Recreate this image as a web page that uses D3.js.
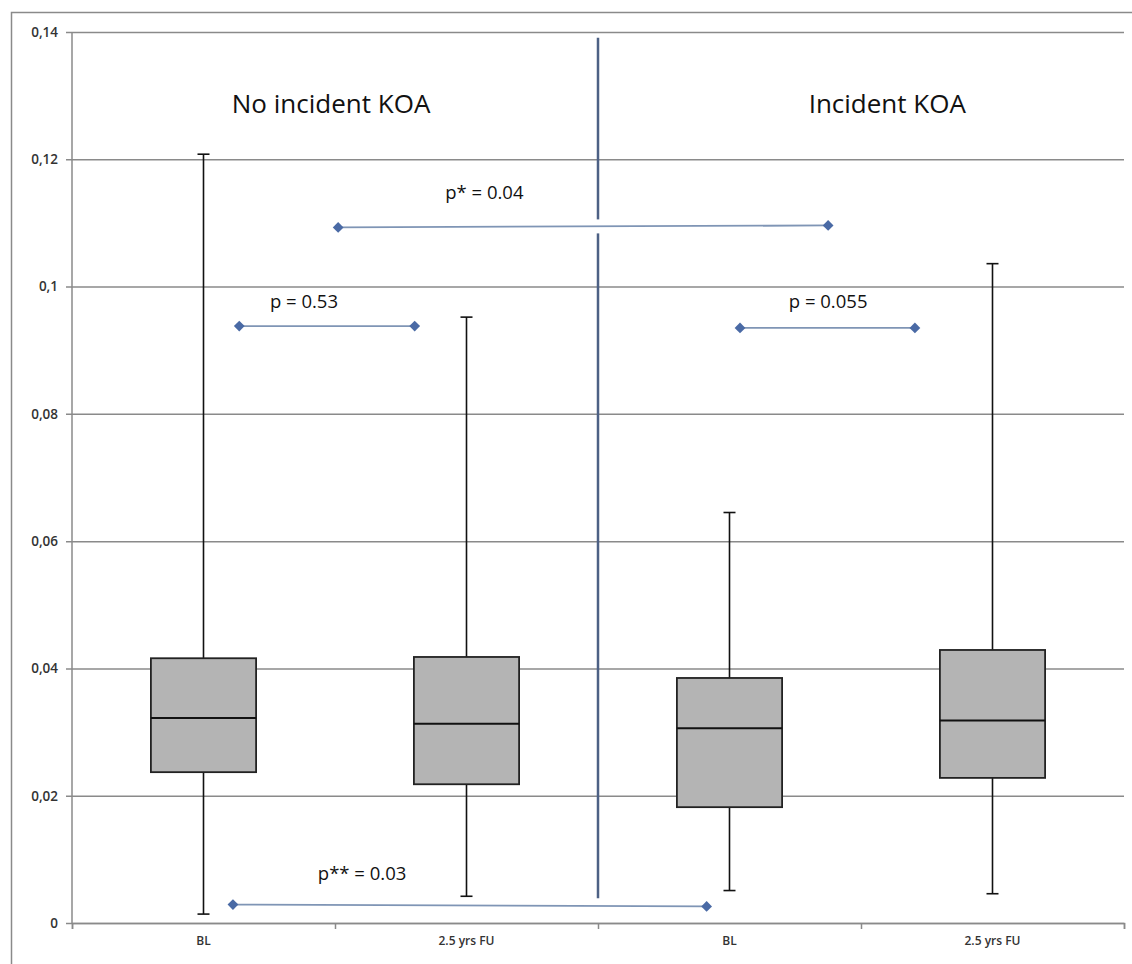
<!DOCTYPE html>
<html>
<head>
  <title>KOA box plot</title>
  <script src="https://d3js.org/d3.v7.min.js"></script>
  <style>
    body { margin: 0; background: #fff; }
    text { font-family: "Open Sans", "Noto Sans", sans-serif; fill: #111; }
  </style>
</head>
<body>
  <script>
    // Data
    var categories = ["BL", "2.5 yrs FU", "BL ", "2.5 yrs FU "];
    var whiskerMin = [0.0014, 0.0042, 0.0051, 0.0046];
    var q1Values = [0.0237, 0.0218, 0.0182, 0.0228];
    var medians = [0.0322, 0.0313, 0.0306, 0.0318];
    var q3Values = [0.0416, 0.0418, 0.0385, 0.0429];
    var whiskerMax = [0.1208, 0.0952, 0.0645, 0.1036];
    var yTicks = [0, 0.02, 0.04, 0.06, 0.08, 0.1, 0.12, 0.14];
    var yTickLabels = ["0", "0,02", "0,04", "0,06", "0,08", "0,1", "0,12", "0,14"];

    // Comparison brackets: positions in category units (0..4), values on y
    var compLabels = ["p = 0.53", "p* = 0.04", "p = 0.055", "p** = 0.03"];
    var compX1 = [0.636, 1.012, 2.540, 0.612];
    var compX2 = [1.303, 2.875, 3.205, 2.413];
    var compY1 = [0.0938, 0.1093, 0.0935, 0.0029];
    var compY2 = [0.0938, 0.1096, 0.0935, 0.0026];
    var compTextX = [0.882, 1.568, 2.875, 1.103];
    var compTextY = [0.0966, 0.1138, 0.0966, 0.0067];

    var groupLabels = ["No incident KOA", "Incident KOA"];
    var groupX = [0.985, 3.10];
    var groupY = 0.1273;

    var width = 1132, height = 964;
    var margin = {top: 32, right: 8, bottom: 41, left: 72};

    var svg = d3.select("body").append("svg")
      .attr("width", width)
      .attr("height", height);

    // outer frame
    svg.append("path")
      .attr("d", "M11.5," + height + "V12.5H" + width)
      .attr("fill", "none")
      .attr("stroke", "#8a8a8a")
      .attr("stroke-width", 1.5);

    var x = d3.scaleBand()
      .domain(categories)
      .range([margin.left, width - margin.right])
      .padding(0);

    var xPos = d3.scaleLinear()
      .domain([0, 4])
      .range([margin.left, width - margin.right]);

    var y = d3.scaleLinear()
      .domain([0, 0.14])
      .range([height - margin.bottom, margin.top]);

    // gridlines + y axis
    var yAxis = d3.axisLeft(y)
      .tickValues(yTicks)
      .tickSize(-(width - margin.right - margin.left))
      .tickFormat(function(d, i) { return yTickLabels[i]; });

    var gy = svg.append("g")
      .attr("transform", "translate(" + margin.left + ",0)")
      .call(yAxis);
    gy.select(".domain").remove();
    gy.selectAll(".tick line")
      .attr("x1", -6)
      .attr("stroke", "#8a8a8a")
      .attr("stroke-width", 1.5);
    gy.selectAll(".tick text")
      .attr("x", -14)
      .style("font-size", "13.5px")
      .style("font-weight", "600")
      .style("fill", "#333");

    // y axis line
    svg.append("line")
      .attr("x1", margin.left).attr("x2", margin.left)
      .attr("y1", y(0.14)).attr("y2", y(0))
      .attr("stroke", "#8a8a8a")
      .attr("stroke-width", 1.5);

    // x axis
    var xAxis = d3.axisBottom(xPos)
      .tickValues([0, 1, 2, 3, 4])
      .tickSize(6)
      .tickFormat("");
    var gx = svg.append("g")
      .attr("transform", "translate(0," + y(0) + ")")
      .call(xAxis);
    gx.select(".domain").attr("stroke", "#8a8a8a").attr("stroke-width", 1.5);
    gx.selectAll(".tick line").attr("stroke", "#8a8a8a").attr("stroke-width", 1.5);

    svg.selectAll(".cat-label")
      .data(categories)
      .enter().append("text")
      .attr("class", "cat-label")
      .attr("x", function(d) { return x(d) + x.bandwidth() / 2; })
      .attr("y", y(0) + 22)
      .attr("text-anchor", "middle")
      .style("font-size", "12px")
      .style("font-weight", "600")
      .style("fill", "#333")
      .text(function(d) { return d.trim(); });

    // box plots
    var boxW = x.bandwidth() * 0.4;
    var capW = 12;
    var boxes = svg.selectAll(".box")
      .data(categories)
      .enter().append("g")
      .attr("class", "box");

    boxes.append("line")
      .attr("x1", function(d) { return x(d) + x.bandwidth() / 2; })
      .attr("x2", function(d) { return x(d) + x.bandwidth() / 2; })
      .attr("y1", function(d, i) { return y(whiskerMax[i]); })
      .attr("y2", function(d, i) { return y(whiskerMin[i]); })
      .attr("stroke", "#111")
      .attr("stroke-width", 1.6);

    [whiskerMax, whiskerMin].forEach(function(arr) {
      boxes.append("line")
        .attr("x1", function(d) { return x(d) + x.bandwidth() / 2 - capW / 2; })
        .attr("x2", function(d) { return x(d) + x.bandwidth() / 2 + capW / 2; })
        .attr("y1", function(d, i) { return y(arr[i]); })
        .attr("y2", function(d, i) { return y(arr[i]); })
        .attr("stroke", "#111")
        .attr("stroke-width", 1.6);
    });

    boxes.append("rect")
      .attr("x", function(d) { return x(d) + (x.bandwidth() - boxW) / 2; })
      .attr("width", boxW)
      .attr("y", function(d, i) { return y(q3Values[i]); })
      .attr("height", function(d, i) { return y(q1Values[i]) - y(q3Values[i]); })
      .attr("fill", "#b4b4b4")
      .attr("stroke", "#222")
      .attr("stroke-width", 1.8);

    boxes.append("line")
      .attr("x1", function(d) { return x(d) + (x.bandwidth() - boxW) / 2; })
      .attr("x2", function(d) { return x(d) + (x.bandwidth() + boxW) / 2; })
      .attr("y1", function(d, i) { return y(medians[i]); })
      .attr("y2", function(d, i) { return y(medians[i]); })
      .attr("stroke", "#111")
      .attr("stroke-width", 2);

    // vertical divider between groups
    svg.append("line")
      .attr("x1", xPos(2)).attr("x2", xPos(2))
      .attr("y1", y(0.1391)).attr("y2", y(0.0039))
      .attr("stroke", "#4d6185")
      .attr("stroke-width", 2.5);

    // comparison lines
    var comps = compLabels.map(function(l, i) {
      return {label: l, x1: compX1[i], x2: compX2[i], y1: compY1[i], y2: compY2[i], tx: compTextX[i], ty: compTextY[i]};
    });

    svg.selectAll(".comp-halo")
      .data(comps)
      .enter().append("line")
      .attr("x1", function(d) { return xPos(d.x1); })
      .attr("x2", function(d) { return xPos(d.x2); })
      .attr("y1", function(d) { return y(d.y1); })
      .attr("y2", function(d) { return y(d.y2); })
      .attr("stroke", function(d, i) { return i === 1 ? "#fff" : "none"; })
      .attr("stroke-width", 14);

    svg.selectAll(".comp-line")
      .data(comps)
      .enter().append("line")
      .attr("x1", function(d) { return xPos(d.x1); })
      .attr("x2", function(d) { return xPos(d.x2); })
      .attr("y1", function(d) { return y(d.y1); })
      .attr("y2", function(d) { return y(d.y2); })
      .attr("stroke", "#7f95b5")
      .attr("stroke-width", 1.8);

    var diamond = d3.symbol().type(d3.symbolSquare).size(58);
    comps.forEach(function(d) {
      [[d.x1, d.y1], [d.x2, d.y2]].forEach(function(p) {
        svg.append("path")
          .attr("d", diamond)
          .attr("transform", "translate(" + xPos(p[0]) + "," + y(p[1]) + ") rotate(45)")
          .attr("fill", "#4a6aa5");
      });
    });

    svg.selectAll(".comp-label")
      .data(comps)
      .enter().append("text")
      .attr("x", function(d) { return xPos(d.tx); })
      .attr("y", function(d) { return y(d.ty); })
      .attr("text-anchor", "middle")
      .style("font-size", "18.5px")
      .text(function(d) { return d.label; });

    // group titles
    svg.selectAll(".group-label")
      .data(groupLabels)
      .enter().append("text")
      .attr("x", function(d, i) { return xPos(groupX[i]); })
      .attr("y", y(groupY))
      .attr("text-anchor", "middle")
      .style("font-size", "26px")
      .text(function(d) { return d; });
  </script>
</body>
</html>
